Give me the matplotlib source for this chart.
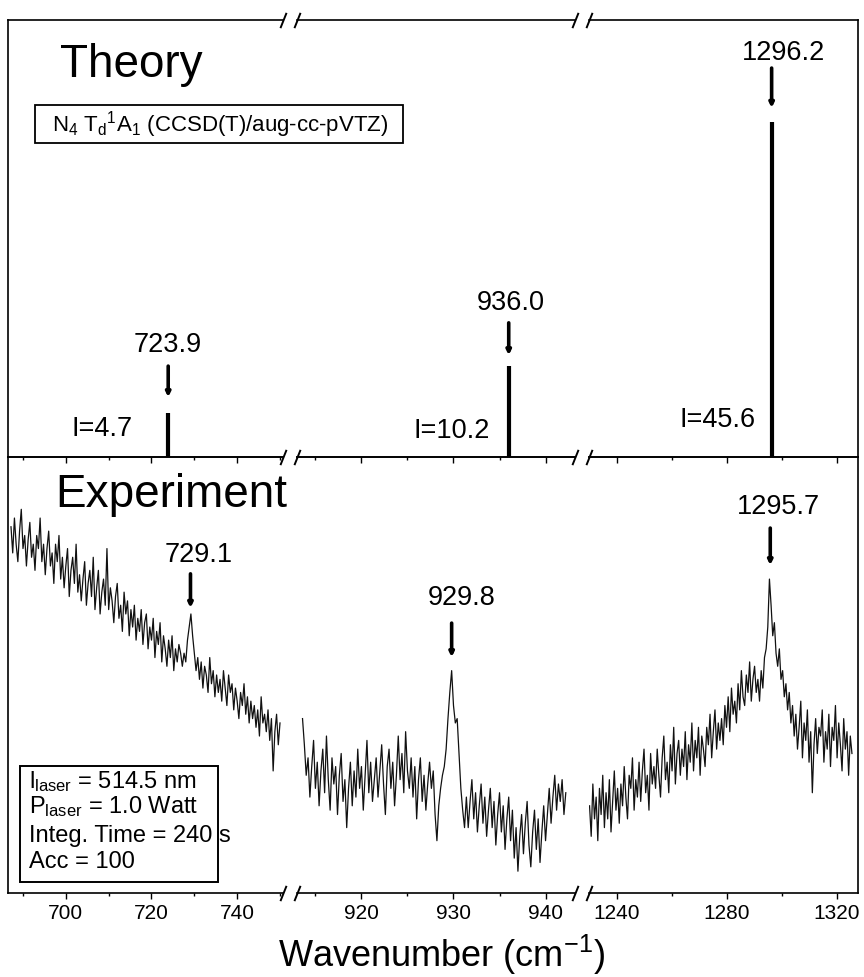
"""Theory vs experiment Raman spectrum of N4 on a broken wavenumber axis."""

import numpy as np
import matplotlib
matplotlib.use("Agg")
import matplotlib.pyplot as plt
from matplotlib.patches import Rectangle

plt.rcParams["font.family"] = ["Liberation Sans", "DejaVu Sans"]
plt.rcParams["mathtext.fontset"] = "custom"
plt.rcParams["mathtext.rm"] = "Liberation Sans"
plt.rcParams["mathtext.it"] = "Liberation Sans:italic"

# ---------- data ----------
# x-axis pieces (cm-1)
seg_limits = [(686.5, 750.7), (913.0, 943.2), (1229.8, 1327.6)]
seg_major = [[700, 720, 740], [920, 930, 940], [1240, 1280, 1320]]
seg_minor = [[690, 710, 730, 750], [915, 925, 935], [1260, 1300]]

# theory: computed lines
theory_pos = [723.9, 936.0, 1296.2]
theory_int = ["4.7", "10.2", "45.6"]
theory_height = [10.1, 20.8, 76.7]  # drawn height, panel units

# experiment: measured spectrum, three windows
exp1_start, exp1_step = 687.2, 0.4
exp1 = [84, 78, 86, 80, 76, 83, 88, 79, 82, 75,
        81, 85, 77, 80, 74, 82, 79, 86, 76, 80,
        73, 79, 83, 75, 78, 71, 80, 76, 82, 72,
        77, 70, 75, 79, 68, 74, 77, 71, 80, 69,
        73, 67, 72, 76, 66, 71, 74, 68, 77, 65,
        70, 74, 64, 69, 72, 66, 79, 65, 70, 67,
        62, 68, 71, 63, 66, 60, 69, 64, 67, 59,
        65, 61, 66, 58, 63, 60, 65, 57, 62, 64,
        56, 61, 58, 63, 54, 60, 57, 62, 53, 59,
        56, 52, 58, 54, 59, 51, 56, 53, 57, 55,
        52, 55, 53, 58, 61, 64, 59, 55, 51, 54,
        49, 53, 47, 52, 50, 46, 54, 48, 51, 45,
        50, 46, 49, 44, 51, 47, 43, 50, 46, 48,
        42, 47, 44, 40, 46, 43, 48, 41, 45, 39,
        44, 40, 43, 38, 42, 36, 45, 39, 41, 37,
        42, 35, 40, 28, 37, 41, 34, 39]

exp2_start, exp2_step = 913.6, 0.2
exp2 = [40, 34, 27, 31, 22, 29, 35, 24, 30, 20,
        28, 33, 23, 36, 26, 19, 31, 25, 29, 18,
        27, 32, 21, 26, 15, 24, 30, 20, 28, 22,
        33, 24, 29, 19, 27, 35, 23, 30, 21, 26,
        31, 22, 28, 34, 25, 18, 29, 33, 24, 30,
        20, 27, 36, 26, 32, 23, 37, 28, 24, 31,
        22, 29, 17, 26, 31, 21, 27, 19, 25, 30,
        24, 28, 18, 12, 20, 24, 27, 29, 33, 40,
        46, 51, 43, 39, 40, 32, 24, 19, 15, 22,
        15, 21, 26, 17, 23, 14, 20, 25, 16, 22,
        13, 19, 24, 15, 21, 11, 18, 23, 14, 20,
        10, 17, 22, 12, 19, 8, 15, 5, 13, 18,
        9, 16, 21, 11, 6, 14, 19, 10, 17, 7,
        14, 20, 12, 18, 24, 16, 22, 27, 19, 25,
        21, 26, 18, 23]

exp3_start, exp3_step = 1230.0, 0.6
exp3 = [20, 13, 25, 17, 22, 12, 24, 18, 27, 15,
        23, 17, 26, 14, 21, 28, 19, 24, 16, 25,
        20, 29, 22, 17, 27, 24, 31, 19, 26, 22,
        30, 21, 28, 33, 23, 27, 19, 32, 25, 29,
        24, 33, 27, 22, 31, 36, 26, 30, 23, 34,
        28, 38, 25, 32, 35, 27, 33, 29, 37, 26,
        34, 30, 39, 28, 35, 31, 38, 27, 36, 33,
        29, 38, 34, 41, 31, 37, 42, 33, 39, 35,
        40, 34, 43, 38, 45, 37, 47, 41, 44, 39,
        48, 42, 51, 45, 43, 50, 46, 53, 44, 49,
        52, 46, 49, 44, 51, 47, 54, 56, 61, 72,
        66, 59, 62, 55, 52, 56, 49, 51, 45, 48,
        42, 46, 39, 43, 36, 41, 33, 38, 44, 31,
        39, 35, 42, 30, 37, 23, 34, 40, 32, 38,
        36, 42, 30, 37, 33, 41, 29, 38, 35, 43,
        31, 39, 34, 28, 40, 33, 37, 27, 36, 32]

# peak labels: (position, label text, label x, label y, arrow top, arrow tip)
theory_marks = [(723.9, "723.9", 723.7, 25.6, 20.8, 13.7),
                (936.0, "936.0", 936.2, 35.2, 30.7, 23.3),
                (1296.2, "1296.2", 1300.4, 92.4, 89.0, 79.9)]
exp_marks = [(729.1, "729.1", 731.0, 77.5, 73.2, 65.4),
             (929.8, "929.8", 930.9, 67.7, 61.9, 54.1),
             (1295.7, "1295.7", 1298.6, 88.5, 83.7, 75.2)]
int_label_x = [715.7, 934.0, 1290.5]
int_label_y = [6.4, 6.0, 8.4]

# ---------- layout (pixels of the 864x977 figure) ----------
W, H = 864, 977
seg_px = [(8, 283), (297, 575), (589, 858)]
rows_px = [(20, 457), (457, 893)]


def rect(x0, x1, y0, y1):
    return [x0 / W, 1 - y1 / H, (x1 - x0) / W, (y1 - y0) / H]


def fx(px):
    return px / W


def fy(py):
    return 1 - py / H


fig = plt.figure(figsize=(W / 100, H / 100), dpi=100)
axes = [[fig.add_axes(rect(sx0, sx1, ry0, ry1)) for (sx0, sx1) in seg_px]
        for (ry0, ry1) in rows_px]

for r, row in enumerate(axes):
    for s, ax in enumerate(row):
        ax.set_xlim(*seg_limits[s])
        ax.set_ylim(0, 100)
        ax.set_xticks(seg_major[s])
        ax.set_xticks(seg_minor[s], minor=True)
        ax.set_yticks([])
        ax.spines["left"].set_visible(s == 0)
        ax.spines["right"].set_visible(s == 2)
        for sp in ax.spines.values():
            sp.set_linewidth(1.2)
        ax.tick_params(axis="x", which="major", direction="out", length=4,
                       width=1.0, labelsize=15, pad=4)
        ax.tick_params(axis="x", which="minor", direction="out", length=2.5,
                       width=1.0)
        if r == 0:
            ax.tick_params(axis="x", labelbottom=False)
        ax.patch.set_alpha(0)

# break marks "/ /" on every horizontal line
kw = dict(marker=[(-0.4, -1), (0.4, 1)], markersize=11, linestyle="none",
          color="k", mec="k", mew=1.4, clip_on=False)
for r, row in enumerate(axes):
    for s, ax in enumerate(row):
        ys = [0, 1] if r == 0 else [0]
        if s < 2:
            ax.plot([1] * len(ys), ys, transform=ax.transAxes, **kw)
        if s > 0:
            ax.plot([0] * len(ys), ys, transform=ax.transAxes, **kw)

arrow = dict(arrowstyle="-|>", lw=2.6, color="k", mutation_scale=6,
             shrinkA=0, shrinkB=0)

# ---------- theory panel ----------
for s, ax in enumerate(axes[0]):
    ax.vlines(theory_pos[s], 0, theory_height[s], color="k", lw=3.0)
    pos, txt, lx, ly, a0, a1 = theory_marks[s]
    ax.text(lx, ly, txt, ha="center", va="center", fontsize=19.5)
    ax.annotate("", xy=(pos, a1), xytext=(pos, a0), arrowprops=arrow)
    ax.text(int_label_x[s], int_label_y[s], "I=" + theory_int[s],
            ha="right", va="center", fontsize=19.5)

fig.text(fx(60), fy(77), "Theory", fontsize=33, ha="left", va="baseline")
fig.add_artist(Rectangle((fx(35), fy(143)), 368 / W, 38 / H,
                         transform=fig.transFigure, fill=False, lw=1.3,
                         ec="k"))
fig.text(fx(52), fy(131),
         r"N$_4$ T$_\mathrm{d}$$^1$A$_1$ (CCSD(T)/aug-cc-pVTZ)",
         fontsize=16, ha="left", va="baseline")

# ---------- experiment panel ----------
spectra = [(exp1_start, exp1_step, exp1),
           (exp2_start, exp2_step, exp2),
           (exp3_start, exp3_step, exp3)]
for s, ax in enumerate(axes[1]):
    start, step, vals = spectra[s]
    xs = start + step * np.arange(len(vals))
    ax.plot(xs, vals, color="#111111", lw=0.9)
    pos, txt, lx, ly, a0, a1 = exp_marks[s]
    ax.text(lx, ly, txt, ha="center", va="center", fontsize=19.5)
    ax.annotate("", xy=(pos, a1), xytext=(pos, a0), arrowprops=arrow)

fig.text(fx(55), fy(507), "Experiment", fontsize=33, ha="left",
         va="baseline")

fig.add_artist(Rectangle((fx(20), fy(882)), 198 / W, 116 / H,
                         transform=fig.transFigure, fill=False, lw=1.4,
                         ec="k"))
info_lines = [r"l$_\mathrm{laser}$ = 514.5 nm",
              r"P$_\mathrm{laser}$ = 1.0 Watt",
              "Integ. Time = 240 s", "Acc = 100"]
info_y = [782, 807, 836, 862]
for line, y in zip(info_lines, info_y):
    fig.text(fx(29), fy(y), line, fontsize=17, ha="left", va="center")

fig.text(fx(442), fy(967), r"Wavenumber (cm$^{-1}$)", fontsize=26,
         ha="center", va="baseline")

fig.savefig("out.png", dpi=100)
